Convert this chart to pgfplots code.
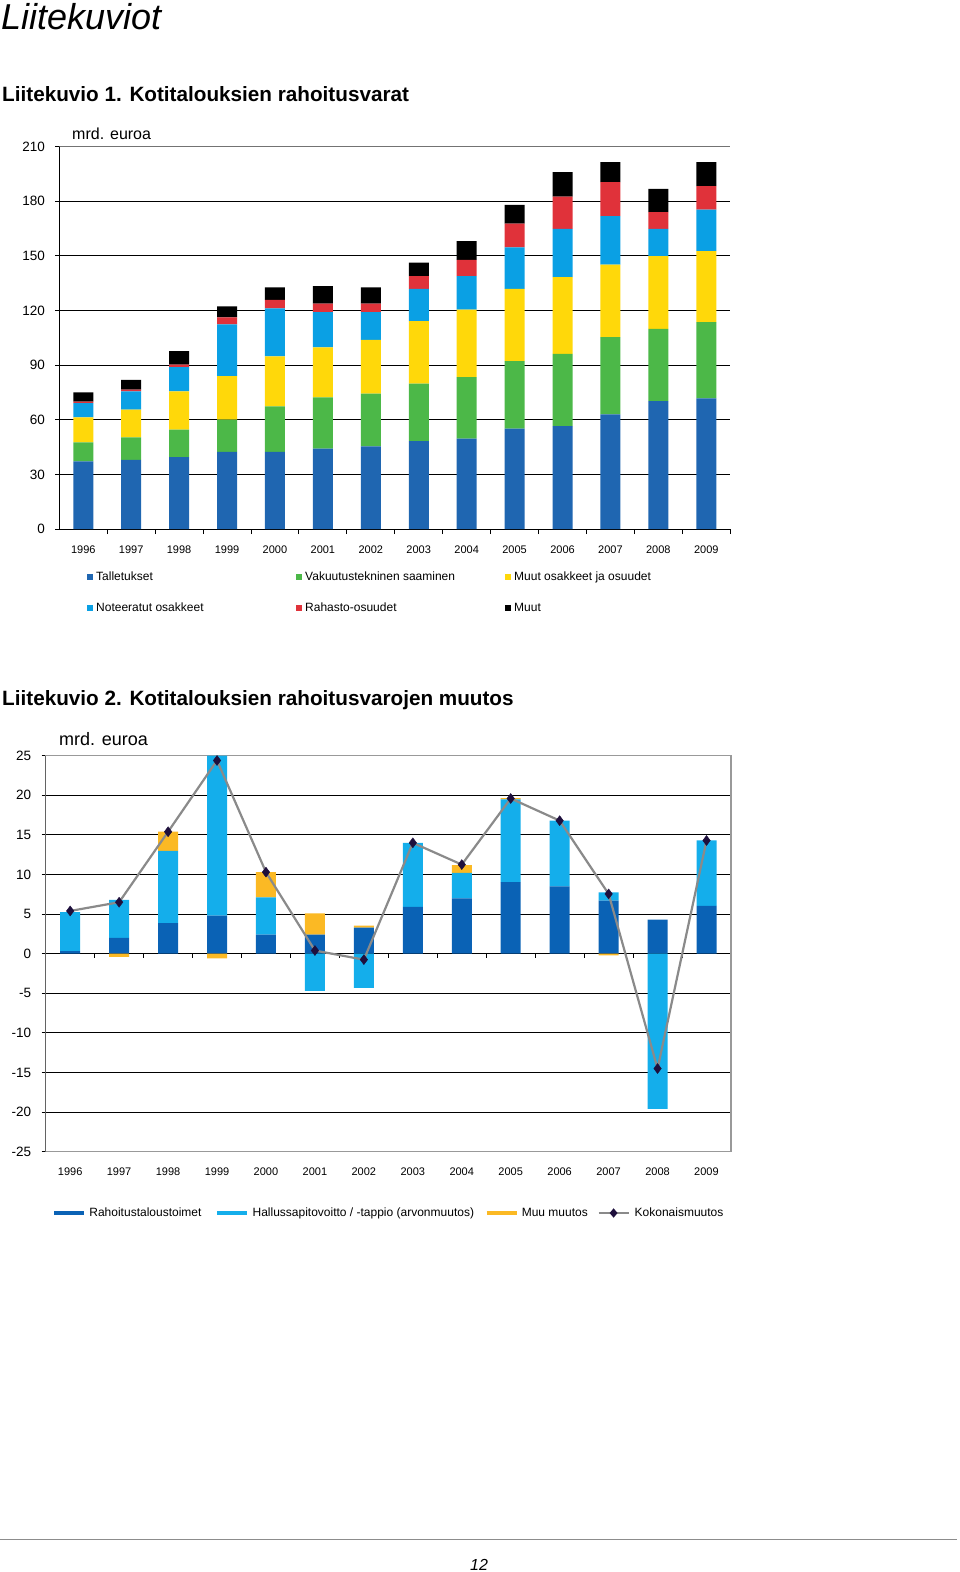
\documentclass[border=0pt]{standalone}
\usepackage{fontspec}
\setmainfont{Liberation Sans}
\usepackage{pgfplots}
\usepackage{pgfplotstable}
\pgfplotsset{compat=1.18}

\definecolor{ablue}{HTML}{1F66B1}
\definecolor{agreen}{HTML}{4CB848}
\definecolor{ayellow}{HTML}{FFD80A}
\definecolor{alblue}{HTML}{0AA0E4}
\definecolor{ared}{HTML}{E0323A}
\definecolor{bdark}{HTML}{0A62B5}
\definecolor{blight}{HTML}{14AEEB}
\definecolor{byellow}{HTML}{FBB924}
\definecolor{bline}{HTML}{8A8A8A}
\definecolor{bmark}{HTML}{1E0F3C}

% chart 1: stacked levels (bn eur)
\pgfplotstableread{
year tal  vak  muu  not  rah  mut
1996 37.1 10.5 13.7 7.8  0.8  5.1
1997 38.0 12.3 15.2 10.0 1.0  5.4
1998 39.5 15.0 21.0 13.4 1.3  7.5
1999 42.3 17.7 24.0 28.3 3.9  6.0
2000 42.3 25.0 27.5 26.3 4.7  6.8
2001 44.1 28.2 27.4 19.4 4.6  9.6
2002 45.4 28.9 29.6 15.2 4.6  8.9
2003 48.3 31.5 34.3 17.8 6.9  7.5
2004 49.6 33.8 37.0 18.4 9.0  10.2
2005 55.1 37.1 39.7 22.7 13.0 10.4
2006 56.5 39.7 42.1 26.5 17.7 13.4
2007 62.9 42.5 39.8 26.6 18.6 11.0
2008 70.2 39.7 39.9 15.0 9.2  12.8
2009 71.7 41.9 38.9 22.9 12.8 13.2
}\varat

% chart 2: changes, positive and negative parts split
\pgfplotstableread{
year rah  hpos  hneg  mpos mneg tot
1996 0.34 4.9   0     0    0    5.4
1997 2.0  4.8   0     0    -0.4 6.5
1998 3.85 9.15  0     2.4  0    15.4
1999 4.8  20.2  0     0    -0.6 24.4
2000 2.4  4.7   0     3.2  0    10.3
2001 2.4  0     -4.7  2.7  0    0.4
2002 3.3  0     -4.3  0.25 0    -0.75
2003 5.9  8.1   0     0    0    14.0
2004 7.0  3.2   0     1.0  0    11.25
2005 9.05 10.45 0     0.15 0    19.6
2006 8.5  8.3   0     0    0    16.8
2007 6.7  1.05  0     0    -0.2 7.55
2008 4.3  0     -19.6 0    0    -14.5
2009 6.05 8.25  0     0    0    14.3
}\muutos

\pgfplotsset{
  sq/.style={legend image code/.code={\fill[##1] (0pt,-3pt) rectangle (6pt,3pt); \path (9pt,0pt);}},
  c2base/.style={at={(45.7pt,-1151.7pt)}, anchor=south west, scale only axis,
    width=685.3pt, height=396pt, xmin=1995.5, xmax=2009.5, ymin=-25, ymax=25},
}

\begin{document}
\begin{tikzpicture}
\useasboundingbox (0pt,0pt) rectangle (960pt,-1572pt);

\node[anchor=base west, inner sep=0pt, font=\itshape\fontsize{36}{40}\selectfont] at (1pt,-29.5pt) {Liitekuviot};
\node[anchor=base west, inner sep=0pt, font=\bfseries\fontsize{20.7}{24}\selectfont] at (2pt,-101.5pt) {Liitekuvio 1. Kotitalouksien rahoitusvarat};
\node[anchor=base west, inner sep=0pt, font=\bfseries\fontsize{20.7}{24}\selectfont] at (2pt,-705.5pt) {Liitekuvio 2. Kotitalouksien rahoitusvarojen muutos};
\node[anchor=base west, inner sep=0pt, font=\fontsize{16}{18}\selectfont] at (72pt,-139.5pt) {mrd. euroa};
\node[anchor=base west, inner sep=0pt, font=\fontsize{18}{20}\selectfont] at (59pt,-745pt) {mrd. euroa};

% chart 1
\begin{axis}[
    at={(59.3pt,-529pt)}, anchor=south west,
    scale only axis, width=671pt, height=382.5pt,
    ybar stacked, bar width=20pt,
    xmin=1995.5, xmax=2009.5, ymin=0, ymax=210,
    xtick={1996,...,2009}, ytick={0,30,...,210},
    minor xtick={1996.5,1997.5,...,2009.5},
    axis x line*=bottom, axis y line*=left,
    axis line style={-, black, line width=0.9pt},
    ymajorgrids, major grid style={black, line width=0.9pt},
    tick align=outside, major tick length=4pt, minor tick length=5pt,
    major x tick style={draw=none},
    minor x tick style={black, line width=0.9pt},
    major y tick style={black, line width=0.9pt},
    /pgf/number format/assume math mode=true,
    /pgf/number format/1000 sep={},
    xticklabel style={font=\fontsize{11}{13}\selectfont, yshift=-9pt},
    yticklabel style={font=\fontsize{13.5}{15}\selectfont, xshift=-7pt},
    legend columns=3, legend cell align=left,
    legend style={at={(0.0413,-0.166)}, anchor=west, draw=none, fill=none,
      inner sep=0pt, nodes={inner sep=0pt}, column sep=0pt, row sep=21pt,
      font=\fontsize{12}{14}\selectfont},
  ]
  \addplot[fill=ablue, draw=none, sq] table[x=year, y=tal]{\varat};
  \addplot[fill=agreen, draw=none, sq] table[x=year, y=vak]{\varat};
  \addplot[fill=ayellow, draw=none, sq] table[x=year, y=muu]{\varat};
  \addplot[fill=alblue, draw=none, sq] table[x=year, y=not]{\varat};
  \addplot[fill=ared, draw=none, sq] table[x=year, y=rah]{\varat};
  \addplot[fill=black, draw=none, sq] table[x=year, y=mut]{\varat};
  \addlegendentry{\makebox[200pt][l]{Talletukset}}
  \addlegendentry{\makebox[200pt][l]{Vakuutustekninen saaminen}}
  \addlegendentry{\makebox[200pt][l]{Muut osakkeet ja osuudet}}
  \addlegendentry{\makebox[200pt][l]{Noteeratut osakkeet}}
  \addlegendentry{\makebox[200pt][l]{Rahasto-osuudet}}
  \addlegendentry{\makebox[200pt][l]{Muut}}
  \draw[black!55, line width=1.2pt] (rel axis cs:0,1) -- (rel axis cs:1,1);
\end{axis}

% chart 2: positive parts and frame
\begin{axis}[
    c2base,
    ybar stacked, bar width=20pt,
    xtick={1996,...,2009}, ytick={-25,-20,...,25},
    axis lines=box, axis line style={black!40, line width=1.2pt},
    ymajorgrids, major grid style={black, line width=0.9pt},
    tick align=outside, major tick length=4pt,
    major x tick style={draw=none},
    major y tick style={black, line width=0.9pt},
    xtick pos=bottom, ytick pos=left,
    /pgf/number format/assume math mode=true,
    /pgf/number format/1000 sep={},
    xticklabel style={font=\fontsize{11}{13}\selectfont, yshift=-9pt},
    yticklabel style={font=\fontsize{13.5}{15}\selectfont, xshift=-7pt},
  ]
  \addplot[fill=bdark, draw=none] table[x=year, y=rah]{\muutos};
  \addplot[fill=blight, draw=none] table[x=year, y=hpos]{\muutos};
  \addplot[fill=byellow, draw=none] table[x=year, y=mpos]{\muutos};
  \draw[black, line width=0.9pt] (rel axis cs:0,0) -- (rel axis cs:0,1);
  \pgfplotsinvokeforeach{1996.5,1997.5,1998.5,1999.5,2000.5,2001.5,2002.5,2003.5,2004.5,2005.5,2006.5,2007.5,2008.5}{
    \draw[black, line width=0.9pt] (axis cs:#1,0) -- ++(0pt,-4pt);
  }
\end{axis}

% chart 2: negative parts
\begin{axis}[c2base, hide axis, ybar stacked, bar width=20pt]
  \addplot[fill=blight, draw=none] table[x=year, y=hneg]{\muutos};
  \addplot[fill=byellow, draw=none] table[x=year, y=mneg]{\muutos};
\end{axis}

% chart 2: total change line and legend
\begin{axis}[c2base, hide axis, clip=false,
    legend columns=4, legend cell align=left,
    legend style={at={(0.0092,-0.1548)}, anchor=west, draw=none, fill=none,
      inner sep=0pt, nodes={inner sep=0pt}, column sep=0pt,
      font=\fontsize{12}{14}\selectfont},
  ]
  \addlegendimage{legend image code/.code={\draw[bdark, line width=4pt] (0pt,0pt) -- (30pt,0pt); \path (35pt,0pt);}}
  \addlegendentry{\makebox[126pt][l]{Rahoitustaloustoimet}}
  \addlegendimage{legend image code/.code={\draw[blight, line width=4pt] (0pt,0pt) -- (30pt,0pt); \path (35pt,0pt);}}
  \addlegendentry{\makebox[232pt][l]{Hallussapitovoitto / -tappio (arvonmuutos)}}
  \addlegendimage{legend image code/.code={\draw[byellow, line width=4pt] (0pt,0pt) -- (30pt,0pt); \path (35pt,0pt);}}
  \addlegendentry{\makebox[76pt][l]{Muu muutos}}
  \addplot[bline, line width=2.2pt, mark=diamond*, mark size=5pt,
    mark options={fill=bmark, draw=bmark, line width=0.4pt},
    legend image code/.code={\draw[bline, line width=1.6pt] (0pt,0pt) -- (30pt,0pt);
      \fill[bmark] (15pt,3pt) -- (17.5pt,0pt) -- (15pt,-3pt) -- (12.5pt,0pt) -- cycle; \path (35pt,0pt);}]
    table[x=year, y=tot]{\muutos};
  \addlegendentry{Kokonaismuutos}
\end{axis}

\draw[black!45, line width=1.5pt] (0pt,-1539.5pt) -- (957pt,-1539.5pt);
\node[anchor=base west, inner sep=0pt, font=\itshape\fontsize{16}{18}\selectfont] at (470pt,-1570.5pt) {12};
\end{tikzpicture}
\end{document}
